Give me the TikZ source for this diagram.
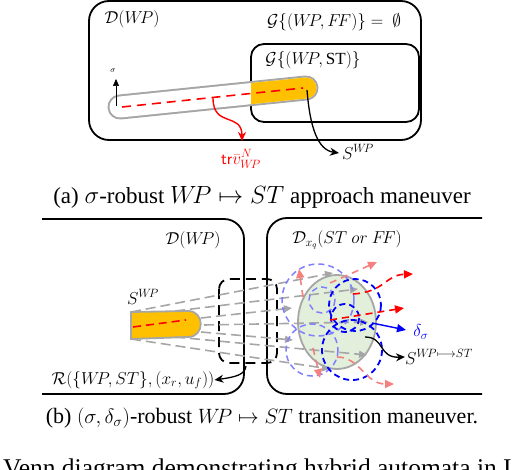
\documentclass[tikz,border=0pt]{standalone}
\usepackage{fontspec}
\setmainfont{Liberation Serif}
\usetikzlibrary{arrows.meta,calc}
\definecolor{orng}{HTML}{FFC000}
\definecolor{grn}{HTML}{E2EFDA}
\definecolor{lblue}{HTML}{8080FF}
\definecolor{lred}{HTML}{F58080}
\definecolor{gline}{HTML}{A6A6A6}
\begin{document}
\begin{tikzpicture}[x=1pt,y=-1pt,
  box/.style={line width=1.8pt, rounded corners=20pt},
  lbl/.style={font=\fontsize{17}{20}\selectfont, inner sep=0pt},
  capt/.style={font=\fontsize{23}{27}\selectfont, inner sep=0pt},
  gl/.style={gline, line width=1.6pt, dash pattern=on 10pt off 5pt, -{Triangle[length=8pt,width=7pt]}},
  lbc/.style={lblue, line width=1.5pt, dash pattern=on 6pt off 4pt},
  dbc/.style={blue, line width=1.8pt, dash pattern=on 6pt off 4pt},
  redar/.style={red, line width=1.6pt, dash pattern=on 7pt off 5pt, -{Triangle[length=9pt,width=8pt]}},
  lredar/.style={lred, line width=1.6pt, dash pattern=on 7pt off 5pt, -{Triangle[length=9pt,width=8pt]}},
  blkar/.style={black, line width=1.3pt, -{Stealth[length=9pt,width=8pt]}}]
\useasboundingbox (0,0) rectangle (516,470);

% ---------------- panel (a) ----------------
\draw[box] (89,1) rectangle (421,140);
\draw[box, rounded corners=13pt] (251,44) rectangle (419,122);
\node[lbl] (dwp) at (132,19) {$\mathcal{D}(W\!P)$};
\node[lbl] (gff) at (334,22) {$\mathcal{G}\{(W\!P,F\!F)\} =\ \emptyset$};
\node[lbl] (gst) at (313,60) {$\mathcal{G}\{(W\!P,\mathrm{ST})\}$};

\coordinate (tl) at (120,107);
\coordinate (tr) at (306,88);
\draw[gline, line width=25pt, line cap=round] (tl) -- (tr);
\draw[white, line width=21pt, line cap=round] (tl) -- (tr);
\begin{scope}
  \clip (251,44) rectangle (419,122);
  \draw[orng, line width=21pt, line cap=round] (tl) -- (tr);
\end{scope}
\coordinate (ra) at (122,107);
\coordinate (rb) at (303,88);
\draw[red, line width=1.6pt, dash pattern=on 9pt off 6pt] (ra) -- (rb);

\coordinate (sa) at (116,106);
\coordinate (sb) at (116,79);
\draw[black, line width=0.5pt, -{Triangle[length=7pt,width=6pt]}] (sa) -- (sb);
\node[inner sep=0pt, font=\fontsize{8}{9}\selectfont] (sig) at (113,71) {$\sigma$};

\coordinate (trs) at (213,98);
\node[lbl, red] (trv) at (241,159) {$\mathsf{tr}\bar{v}^{N}_{W\!P}$};
\draw[red, line width=1.4pt, -{Stealth[length=9pt,width=8pt]}] (trs) .. controls (213,128) and (242,112) .. (242,141);

\coordinate (ss) at (307,90);
\node[lbl] (swp) at (358,152) {$S^{W\!P}$};
\draw[blkar] (ss) .. controls (310,128) and (318,150) .. (339,153);

\node[capt] (capa) at (262,197) {(a) $\sigma$-robust $W\!P \mapsto ST$ approach maneuver};

% ---------------- panel (b) ----------------
\draw[box] (42,219) -- (244,219) -- (244,394) -- (42,394);
\draw[box] (482,218) -- (267,218) -- (267,394) -- (482,394);
\draw[line width=1.8pt, rounded corners=10pt, dash pattern=on 10pt off 6pt] (219,279) rectangle (277,363);

\node[lbl] (dwp2) at (193,240) {$\mathcal{D}(W\!P)$};
\node[lbl] (dxq) at (347,240) {$\mathcal{D}_{x_q}(ST\ or\ F\!F)$};
\node[lbl] (swp2) at (143,297) {$S^{W\!P}$};

% ellipse
\fill[grn] (337,322) ellipse [x radius=39, y radius=47];
\draw[gline, line width=1.8pt] (337,322) ellipse [x radius=39, y radius=47];

% capsule
\draw[gline, line width=1.8pt, fill=orng] (131,312) -- (188,311) .. controls (205,311) and (205,337) .. (188,337) -- (131,339) -- cycle;
\draw[red, line width=1.6pt, dash pattern=on 8pt off 5pt] (133,327) -- (186,320);

% fan of gray dashed arrows
\coordinate (g1a) at (131,312); \coordinate (g1b) at (333,273);
\coordinate (g2a) at (175,311); \coordinate (g2b) at (358,289);
\coordinate (g3a) at (201,318); \coordinate (g3b) at (292,308);
\coordinate (g4a) at (204,325); \coordinate (g4b) at (368,322);
\coordinate (g5a) at (201,332); \coordinate (g5b) at (293,340);
\coordinate (g6a) at (175,337); \coordinate (g6b) at (367,355);
\coordinate (g7a) at (131,339); \coordinate (g7b) at (330,369);
\foreach \i in {1,...,7} {\draw[gl] (g\i a) -- (g\i b);}

% dashed circles
\draw[lbc] (318,300) circle (36);
\draw[lbc] (312,350) circle (26);
\draw[lbc] (322,300) circle (13);
\draw[dbc] (355,305) circle (26);
\draw[dbc] (352,350) circle (30);
\draw[dbc] (345,318) circle (14);

% red arrows
\draw[lredar] (303,297) -- (299,269);
\draw[lredar] (330,283) -- (377,262);
\draw[redar] (353,294) .. controls (385,292) and (385,275) .. (413,274);
\draw[redar] (330,320) -- (404,308);
\draw[lredar] (313,348) -- (320,378);
\draw[lredar] (337,357) .. controls (360,357) and (365,384) .. (394,384);

% delta sigma
\coordinate (da) at (372,323);
\node[lbl, blue] (dsig) at (421,332) {$\delta_\sigma$};
\draw[blue, line width=1.4pt, -{Triangle[length=9pt,width=8pt]}] (da) -- (406,330);

% S^{WP->ST}
\coordinate (sst) at (365,337);
\node[lbl, anchor=west] (swpst) at (405,357) {$S^{W\!P\longmapsto ST}$};
\draw[blkar] (sst) .. controls (385,337) and (378,358) .. (swpst.west);

% R label
\coordinate (rs) at (246,366);
\node[lbl] (rlab) at (133,380) {$\mathcal{R}(\{W\!P,ST\},(x_r,u_f))$};
\draw[blkar] (rs) .. controls (245,375) and (235,377) .. (rlab.east);

\node[capt, font=\fontsize{22}{26}\selectfont] (capb) at (262,418) {(b) $(\sigma,\delta_\sigma)$-robust $W\!P \mapsto ST$ transition maneuver.};
\node[font=\fontsize{25.5}{30}\selectfont, inner sep=0pt, anchor=base west] (venn) at (3,476) {Venn diagram demonstrating hybrid automata in I};
\end{tikzpicture}
\end{document}
